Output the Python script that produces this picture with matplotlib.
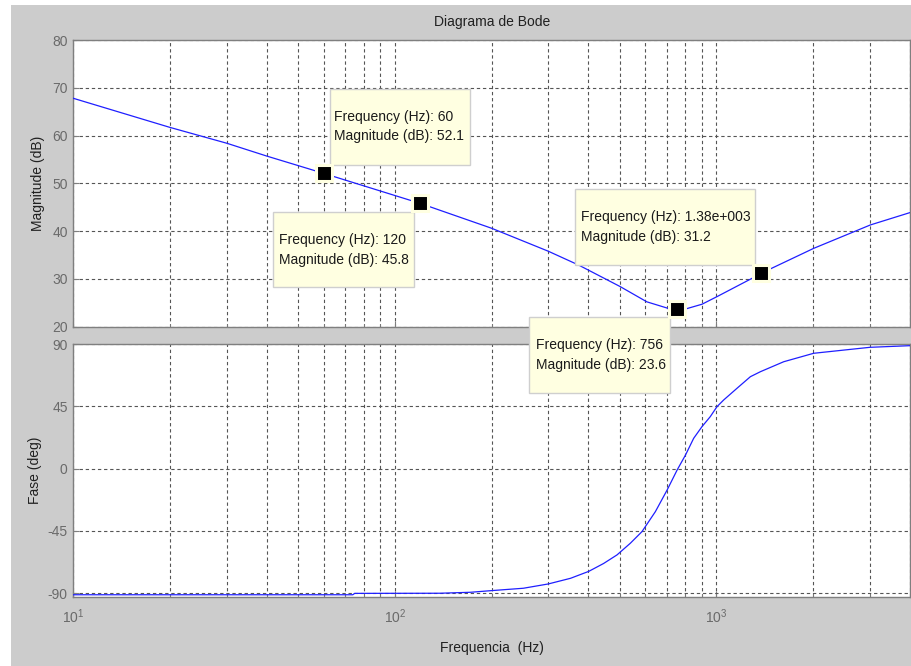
import matplotlib
matplotlib.use("Agg")
import matplotlib.pyplot as plt
from matplotlib.patches import Rectangle
from matplotlib.transforms import IdentityTransform, ScaledTranslation
from matplotlib.ticker import LogLocator, NullFormatter, FixedLocator

plt.rcParams["font.family"] = ["Liberation Sans", "DejaVu Sans"]
plt.rcParams["mathtext.default"] = "regular"
plt.rcParams["axes.unicode_minus"] = False

# ---- frequency response samples ----
mag_freq = [10, 20, 30, 40, 50.7, 60, 120, 200, 300, 373, 502, 608, 711,
            756, 811, 902, 1005, 1306, 1380, 2008, 3014, 4010]
mag_db = [67.8, 61.7, 58.4, 55.7, 53.6, 52.1, 45.8, 40.6, 35.8, 32.9, 28.4,
          25.2, 23.8, 23.6, 23.8, 24.7, 26.3, 30.3, 31.2, 36.4, 41.3, 43.9]

phase_freq = [10, 74, 75, 138, 172, 200, 251, 300, 352, 401, 446, 491, 540,
              587, 646, 703, 755, 802, 850, 902, 957, 1004, 1054, 1159, 1276,
              1371, 1620, 2008, 3000, 4010]
phase_deg = [-91.1, -91.1, -90.1, -90.0, -89.3, -88.1, -86.4, -83.3, -79.2,
             -74.2, -68.5, -62.3, -53.9, -45.5, -31.1, -15.4, -1.0, 9.9, 21.9,
             30.3, 37.5, 44.7, 49.6, 58.0, 66.4, 70.0, 77.2, 83.3, 87.6, 88.8]

# ---- data tips ----
tip_freq = [60, 120, 1380, 756]
tip_mag = [52.1, 45.8, 31.2, 23.6]

mag_ticks = [20, 30, 40, 50, 60, 70, 80]
phase_ticks = [-90, -45, 0, 45, 90]

# box geometry (pixels, relative to the tip marker): dx, dy, w, h, tx, ty1, ty2
tip_layout = [
    (6.8, 8.4, 140.0, 76.0, 10.8, 56.7, 37.4),
    (-147.3, -83.9, 140.6, 75.6, -141.3, -36.6, -56.6),
    (-186.7, 8.2, 180.0, 75.7, -180.3, 55.9, 35.9),
    (-148.0, -83.2, 140.3, 76.0, -141.3, -35.5, -55.5),
]

W, H = 911, 666
fig = plt.figure(figsize=(W / 100, H / 100), dpi=100)
fig.patch.set_facecolor("white")
fig.add_artist(Rectangle((11 / W, 0), (W - 11) / W, (H - 5) / H,
                         transform=fig.transFigure, facecolor="#cccccc",
                         edgecolor="none", zorder=-10))

left = 73.3 / W
width = (910.3 - 73.3) / W
ax1 = fig.add_axes([left, (H - 326.7) / H, width, (326.7 - 40) / H])
ax2 = fig.add_axes([left, (H - 596.7) / H, width, (596.7 - 344) / H])
ax1.set_zorder(2)

spine_c = "#7f7f7f"
tick_c = "#6a6a6a"
grid_c = "#555555"
label_c = "#202020"

for ax in (ax1, ax2):
    ax.set_xscale("log")
    ax.set_xlim(10, 4010)
    ax.xaxis.set_major_locator(LogLocator(base=10, numticks=10))
    ax.xaxis.set_minor_locator(LogLocator(base=10, subs=range(2, 10), numticks=10))
    ax.xaxis.set_minor_formatter(NullFormatter())
    for s in ax.spines.values():
        s.set_color(spine_c)
        s.set_linewidth(1.0)
    ax.tick_params(axis="both", which="both", direction="in", colors=spine_c,
                   labelcolor=tick_c, labelsize=10)
    ax.tick_params(axis="both", which="major", length=4)
    ax.tick_params(axis="x", which="minor", length=2)
    ax.tick_params(axis="y", pad=4)
    ax.grid(True, which="both", axis="x", color=grid_c, linestyle=(0, (3, 2.5)),
            linewidth=0.8)
    ax.grid(True, which="major", axis="y", color=grid_c, linestyle=(0, (3, 2.5)),
            linewidth=0.8)
    ax.set_axisbelow(True)

# magnitude
ax1.plot(mag_freq, mag_db, color="#1f1fff", linewidth=0.9, zorder=3)
ax1.set_ylim(20, 80)
ax1.yaxis.set_major_locator(FixedLocator(mag_ticks))
ax1.tick_params(axis="x", labelbottom=False)
ax1.set_ylabel("Magnitude (dB)", fontsize=10, color=label_c)
ax1.yaxis.set_label_coords((38 - 73.3) / 837, 0.5)
ax1.yaxis.label.set_va("center")
ax1.text(0.5, 1 + (40 - 22) / 286.7, "Diagrama de Bode", transform=ax1.transAxes,
         ha="center", va="center", fontsize=10, color=label_c)

# phase
ax2.plot(phase_freq, phase_deg, color="#1f1fff", linewidth=0.9, zorder=3)
ax2.set_ylim(-92.5, 90)
ax2.yaxis.set_major_locator(FixedLocator(phase_ticks))
ax2.tick_params(axis="x", which="major", pad=8)
ax2.set_ylabel("Fase (deg)", fontsize=10, color=label_c)
ax2.yaxis.set_label_coords((35 - 73.3) / 837, 0.5)
ax2.yaxis.label.set_va("center")
ax2.set_xlabel("Frequencia  (Hz)", fontsize=10, color=label_c)
ax2.xaxis.set_label_coords(0.5, -(648 - 596.7) / 252.7)
ax2.xaxis.label.set_va("center")


def fmt_freq(f):
    if f >= 1000:
        mant, exp = ("%.2e" % f).split("e")
        mant = mant.rstrip("0").rstrip(".")
        sign = exp[0]
        return "%se%s%03d" % (mant, sign, abs(int(exp)))
    return "%g" % f


for f, m, (dx, dy, w, h, tx, ty1, ty2) in zip(tip_freq, tip_mag, tip_layout):
    anchor = IdentityTransform() + ScaledTranslation(f, m, ax1.transData)
    box = Rectangle((dx, dy), w, h, transform=anchor, facecolor="#ffffe1",
                    edgecolor="#cfcfcf", linewidth=1.0, clip_on=False, zorder=6)
    ax1.add_patch(box)
    ax1.text(tx, ty1, "Frequency (Hz): %s" % fmt_freq(f), transform=anchor,
             ha="left", va="center", fontsize=10, color="#1a1a1a",
             clip_on=False, zorder=7)
    ax1.text(tx, ty2, "Magnitude (dB): %g" % m, transform=anchor,
             ha="left", va="center", fontsize=10, color="#1a1a1a",
             clip_on=False, zorder=7)

ax1.plot(tip_freq, tip_mag, linestyle="none", marker="s", markersize=11,
         markerfacecolor="black", markeredgecolor="#ffffe1",
         markeredgewidth=2.2, zorder=8, clip_on=False)

fig.savefig("out.png", dpi=100)
